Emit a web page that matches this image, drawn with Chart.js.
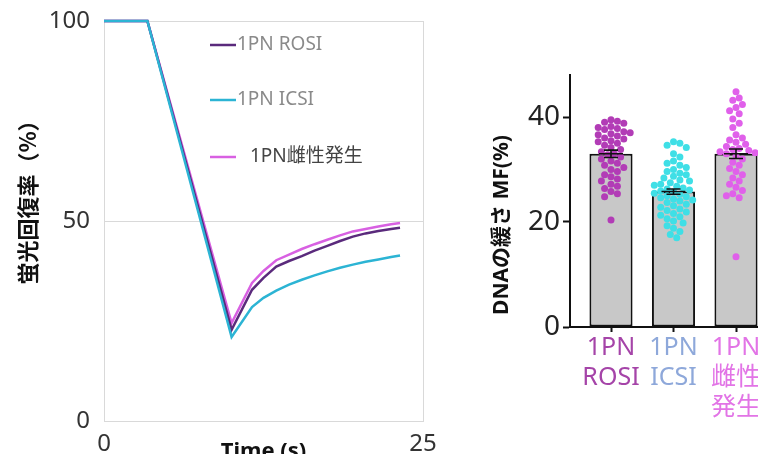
<!DOCTYPE html>
<html>
<head>
<meta charset="utf-8">
<script src="https://cdn.jsdelivr.net/npm/chart.js@4.4.1/dist/chart.umd.min.js"></script>
<style>
  html, body { margin: 0; padding: 0; background: #fff; overflow: hidden; }
  body { width: 758px; height: 454px; position: relative; }
  #recovery { position: absolute; left: 0; top: 0; }
  #looseness { position: absolute; left: 470px; top: 0; }
</style>
</head>
<body>
<canvas id="recovery" width="460" height="470"></canvas>
<canvas id="looseness" width="330" height="454"></canvas>
<script>
// data - recovery curves (time in s, % recovery)
const timePoints = [0, 3.4, 10, 11.6, 12.5, 13.5, 14.5, 15.5, 16.5, 17.5, 18.5, 19.5, 20.5, 21.5, 22.5, 23.2];
const rosiCurve = [100, 100, 22.8, 32.8, 35.8, 38.6, 40.0, 41.2, 42.6, 43.8, 45.0, 46.1, 46.9, 47.5, 48.0, 48.3];
const icsiCurve = [100, 100, 21.0, 28.5, 30.8, 32.6, 34.1, 35.3, 36.4, 37.4, 38.3, 39.1, 39.8, 40.4, 41.0, 41.4];
const femaleCurve = [100, 100, 24.5, 34.5, 37.5, 40.2, 41.6, 43.0, 44.2, 45.3, 46.4, 47.4, 48.0, 48.6, 49.2, 49.5];
const curveNames = ['1PN ROSI', '1PN ICSI', '1PN雌性発生'];

// data - DNA looseness MF (%)
const groupLabels = [['1PN', 'ROSI'], ['1PN', 'ICSI'], ['1PN', '雌性', '発生']];
const groupMeans = [33.0, 25.8, 33.0];
const groupSems = [0.7, 0.5, 0.9];
const rosiDots = [39.5, 39.2, 38.8, 39.0, 38.2, 38.0, 37.8, 37.6, 37.2, 37.0, 36.8, 36.6, 36.4,
  36.0, 35.8, 35.5, 35.3, 35.0, 34.6, 34.2, 33.8, 33.4, 33.0, 32.8, 32.4, 32.0, 31.6, 31.2,
  30.8, 30.4, 30.0, 29.6, 29.0, 28.6, 28.2, 27.8, 27.2, 26.8, 26.4, 25.8, 25.4, 24.8, 20.4];
const icsiDots = [35.3, 35.0, 34.6, 34.2, 33.0, 32.4, 31.6, 31.2, 30.8, 30.4, 30.0,
  29.6, 29.3, 29.0, 28.7, 28.4, 28.0, 27.8, 27.5, 27.2, 27.0, 26.8, 26.5, 26.3, 26.1, 25.9,
  25.7, 25.5, 25.3, 25.0, 24.8, 24.6, 24.4, 24.2, 24.0, 23.7, 23.4, 23.1, 22.8, 22.5,
  22.2, 21.9, 21.6, 21.3, 21.0, 20.6, 20.2, 19.8, 19.3, 18.8, 18.2, 17.6, 17.0];
const femaleDots = [44.8, 43.6, 43.2, 42.4, 41.8, 41.2, 40.6, 39.6, 38.8, 38.0,
  36.6, 36.0, 35.6, 35.2, 34.8, 34.4, 34.0, 33.8, 33.6, 33.4, 33.2, 33.0,
  32.6, 32.0, 31.4, 30.8, 30.2, 29.6, 29.0, 28.4, 27.8, 27.2, 26.6, 26.0, 25.4, 25.0, 24.6, 13.4];

const lineColors = ['#5a2a7c', '#2cb4d4', '#d860e2'];
const dotColors = ['#b23cb6', '#3fdfe6', '#e060ea'];
const labelColors = ['#a544a8', '#8ea8da', '#e274e6'];

Chart.defaults.font.family = "'Noto Sans', 'Noto Sans CJK JP', sans-serif";
Chart.defaults.animation = false;

// rotated axis titles
const sideTitle = {
  id: 'sideTitle',
  afterDraw(chart, args, opts) {
    const ctx = chart.ctx;
    ctx.save();
    ctx.translate(opts.x, opts.y);
    ctx.rotate(-Math.PI / 2);
    ctx.font = opts.font;
    ctx.fillStyle = '#111';
    ctx.textAlign = 'center';
    ctx.textBaseline = 'middle';
    ctx.fillText(opts.text, 0, 0);
    ctx.restore();
  }
};

// legend drawn inside the plot
const innerLegend = {
  id: 'innerLegend',
  afterDraw(chart) {
    const ctx = chart.ctx;
    const area = chart.chartArea;
    const rows = [24, 79, 136];
    ctx.save();
    ctx.font = "19px 'Noto Sans', 'Noto Sans CJK JP'";
    ctx.textBaseline = 'middle';
    curveNames.forEach((name, i) => {
      const y = area.top + rows[i];
      ctx.strokeStyle = lineColors[i];
      ctx.lineWidth = 2.5;
      ctx.beginPath();
      ctx.moveTo(area.left + 106, y);
      ctx.lineTo(area.left + 132, y);
      ctx.stroke();
      ctx.fillStyle = i === 2 ? '#444' : '#8a8a8a';
      ctx.fillText(name, area.left + (i === 2 ? 146 : 133), y);
    });
    ctx.restore();
  }
};

function curveDataset(label, values, color) {
  return {
    label: label,
    data: timePoints.map((t, i) => ({ x: t, y: values[i] })),
    borderColor: color,
    borderWidth: 2.5,
    pointRadius: 0,
    tension: 0,
    clip: 6
  };
}

new Chart(document.getElementById('recovery'), {
  type: 'line',
  data: {
    datasets: [
      curveDataset(curveNames[1], icsiCurve, lineColors[1]),
      curveDataset(curveNames[0], rosiCurve, lineColors[0]),
      curveDataset(curveNames[2], femaleCurve, lineColors[2])
    ]
  },
  options: {
    responsive: false,
    layout: { padding: { left: 0, top: 21, right: 37, bottom: 0 } },
    plugins: {
      legend: { display: false },
      tooltip: { enabled: false },
      sideTitle: { text: '蛍光回復率（%）', x: 28, y: 197, font: "bold 22px 'Noto Sans CJK JP'" }
    },
    scales: {
      x: {
        type: 'linear', min: 0, max: 25,
        afterFit: (s) => { s.height = 49; },
        ticks: { stepSize: 25, padding: 9, color: '#333', font: { size: 24 } },
        grid: { color: '#d9d9d9', drawTicks: false },
        border: { color: '#d9d9d9' },
        title: {
          display: true, text: 'Time (s)', color: '#111',
          font: { size: 22, weight: 'bold' }, padding: { top: 0, bottom: 5 }
        }
      },
      y: {
        min: 0, max: 100,
        afterFit: (s) => { s.width = 104; s.paddingTop = 8; s.paddingBottom = 8; },
        ticks: { stepSize: 50, padding: 14, color: '#333', font: { size: 24 } },
        grid: { color: '#d9d9d9', drawTicks: false },
        border: { color: '#d9d9d9' }
      }
    }
  },
  plugins: [sideTitle, innerLegend]
});

// simple beeswarm spread for the dots (px units, converted back to axis units)
function swarmX(values, center) {
  const diam = 6.4, pxX = 62.5, pxY = 5.25;
  const order = values.map((v, i) => i).sort((a, b) => values[b] - values[a]);
  const placed = [];
  const xs = new Array(values.length);
  order.forEach((i) => {
    const y = values[i] * pxY;
    let off = 0;
    for (let k = 0; k < 40; k++) {
      const cand = (k % 2 ? 1 : -1) * Math.ceil(k / 2) * diam / 2;
      if (placed.every(p => Math.hypot(p.x - cand, p.y - y) >= diam)) { off = cand; break; }
    }
    placed.push({ x: off, y: y });
    xs[i] = center + off / pxX;
  });
  return xs;
}

function dotDataset(values, index) {
  const xs = swarmX(values, index);
  return {
    type: 'scatter',
    data: values.map((v, i) => ({ x: xs[i], y: v })),
    backgroundColor: dotColors[index],
    borderWidth: 0,
    pointRadius: 3.5,
    order: 1
  };
}

// mean +/- SEM bars
const errorBars = {
  id: 'errorBars',
  afterDatasetsDraw(chart) {
    const ctx = chart.ctx;
    const xs = chart.scales.x, ys = chart.scales.y;
    ctx.save();
    ctx.strokeStyle = '#111';
    ctx.lineWidth = 1.6;
    groupMeans.forEach((m, i) => {
      const x = xs.getPixelForValue(i);
      const top = ys.getPixelForValue(m + groupSems[i]);
      const bottom = ys.getPixelForValue(m - groupSems[i]);
      ctx.beginPath();
      ctx.moveTo(x, top); ctx.lineTo(x, bottom);
      ctx.moveTo(x - 7, top); ctx.lineTo(x + 7, top);
      ctx.moveTo(x - 7, bottom); ctx.lineTo(x + 7, bottom);
      ctx.moveTo(x - 12, ys.getPixelForValue(m)); ctx.lineTo(x + 12, ys.getPixelForValue(m));
      ctx.stroke();
    });
    ctx.restore();
  }
};

new Chart(document.getElementById('looseness'), {
  type: 'bar',
  data: {
    datasets: [
      {
        data: groupMeans.map((m, i) => ({ x: i, y: m })),
        backgroundColor: '#c8c8c8',
        borderColor: '#111',
        borderWidth: 2,
        borderSkipped: false,
        barPercentage: 0.69,
        categoryPercentage: 1,
        order: 2
      },
      dotDataset(rosiDots, 0),
      dotDataset(icsiDots, 1),
      dotDataset(femaleDots, 2)
    ]
  },
  options: {
    responsive: false,
    layout: { padding: { left: 0, top: 75, right: 10, bottom: 0 } },
    plugins: {
      legend: { display: false },
      tooltip: { enabled: false },
      sideTitle: { text: 'DNAの緩さ MF(%)', x: 32, y: 225, font: "bold 21px 'Noto Sans', 'Noto Sans CJK JP'" }
    },
    scales: {
      x: {
        type: 'linear', min: -0.656, max: 2.864,
        offset: false,
        afterFit: (s) => { s.height = 127; },
        afterBuildTicks: (s) => { s.ticks = groupLabels.map((l, i) => ({ value: i })); },
        ticks: {
          autoSkip: false, maxRotation: 0, minRotation: 0, padding: 1,
          callback: (v) => groupLabels[v],
          color: (ctx) => labelColors[ctx.index],
          font: { size: 25, lineHeight: 1.2 }
        },
        grid: { offset: false, drawOnChartArea: false, tickLength: 5, tickWidth: 2, tickColor: '#111' },
        border: { color: '#111', width: 2 }
      },
      y: {
        min: 0, max: 48,
        afterFit: (s) => { s.width = 100; },
        afterBuildTicks: (s) => { s.ticks = [0, 20, 40].map(v => ({ value: v })); },
        ticks: { padding: 3, color: '#222', font: { size: 28 } },
        grid: { drawOnChartArea: false, tickLength: 7, tickWidth: 2, tickColor: '#111' },
        border: { color: '#111', width: 2 }
      }
    }
  },
  plugins: [sideTitle, errorBars]
});
</script>
</body>
</html>
